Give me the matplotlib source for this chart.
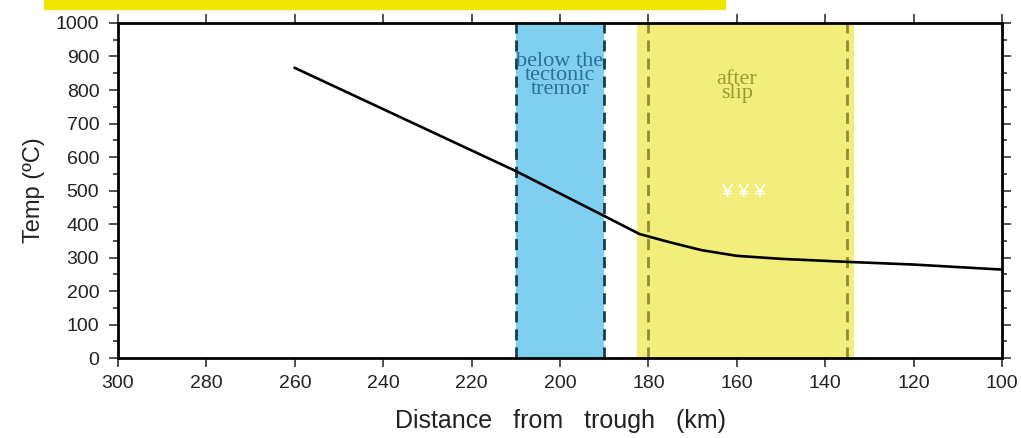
import matplotlib.pyplot as plt
from matplotlib.patches import Rectangle

# temperature profile along distance from the trough
dist_km = [260, 210, 190, 182, 175, 168, 160, 150, 140, 135, 120, 100]
temp_c = [866, 558, 424, 370, 345, 322, 305, 296, 290, 287, 279, 264]

# shaded zones (start, end) in km and their dashed borders
tremor_zone = (210, 190)
slip_zone = (182.5, 133.5)
slip_lines = [180, 135]

x_ticks = [300, 280, 260, 240, 220, 200, 180, 160, 140, 120, 100]
y_ticks = list(range(0, 1001, 100))

plt.rcParams['font.family'] = ['Liberation Sans', 'DejaVu Sans']

fig = plt.figure(figsize=(10.21, 4.38), dpi=100)
ax = fig.add_axes([0.1156, 0.1826, 0.8658, 0.7649])

# yellow banner strip at the very top
fig.patches.append(Rectangle((44 / 1021, 1 - 9 / 438), 681 / 1021, 9 / 438,
                             transform=fig.transFigure, color="#f2e600", zorder=0))

ax.axvspan(tremor_zone[0], tremor_zone[1], color="#7fcff0", zorder=1, lw=0)
for x in tremor_zone:
    ax.axvline(x, color="#1c3a4c", ls=(0, (4, 2.5)), lw=2, zorder=2)

ax.axvspan(slip_zone[0], slip_zone[1], color="#f3ee7c", zorder=1, lw=0)
for x in slip_lines:
    ax.axvline(x, color="#8c8c30", ls=(0, (4, 2.5)), lw=2, zorder=2)

ax.plot(dist_km, temp_c, color="black", lw=1.9, zorder=3)

ax.text(200, 912, "below the\ntectonic\ntremor", ha="center", va="top",
        family="Liberation Serif", fontsize=16, color="#2a6f98", linespacing=0.62)
ax.text(160, 860, "after\nslip", ha="center", va="top",
        family="Liberation Serif", fontsize=16, color="#9a9a30", linespacing=0.62)
ax.text(158.5, 495, "¥ ¥ ¥", ha="center", va="center", fontsize=14,
        color="white")

ax.set_xlim(300, 100)
ax.set_ylim(0, 1000)
ax.set_xticks(x_ticks)
ax.set_xticks(range(290, 100, 20), minor=True)
ax.set_yticks(y_ticks)
ax.set_yticks(range(50, 1000, 100), minor=True)
ax.tick_params(which="both", direction="out", top=True, right=True,
               labeltop=False, labelright=False, labelsize=14, colors="#222222")
ax.tick_params(which="major", length=6.5, width=1.1)
ax.tick_params(which="minor", length=3.5, width=1.1)
ax.tick_params(axis="y", which="major", pad=7)
ax.tick_params(axis="x", which="major", pad=6)
for s in ax.spines.values():
    s.set_linewidth(2)

ax.set_xlabel("Distance   from   trough   (km)", fontsize=18, color="#222222", labelpad=12)
ax.set_ylabel("Temp (ºC)", fontsize=17, color="#222222", labelpad=8)

fig.savefig("out.png", dpi=100)
